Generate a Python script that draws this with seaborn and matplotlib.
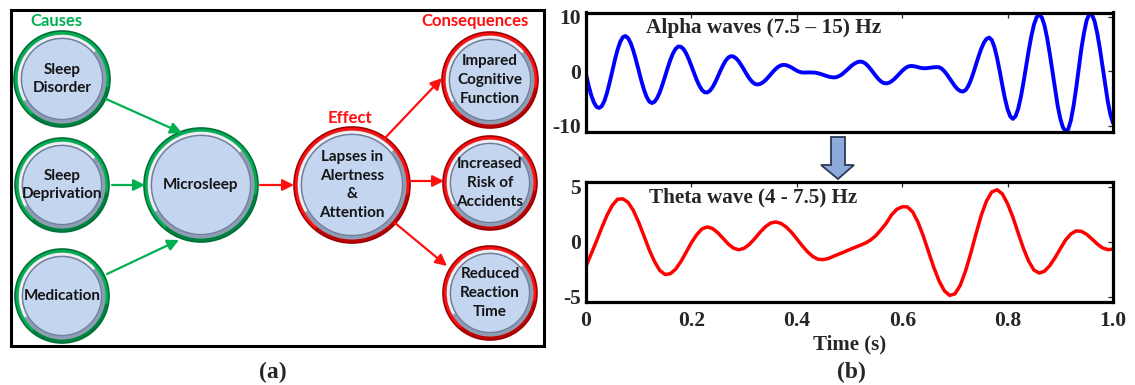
import numpy as np
import pandas as pd
import seaborn as sns
import matplotlib
matplotlib.use("Agg")
import matplotlib.pyplot as plt
from matplotlib.patches import Circle, Rectangle, FancyArrowPatch, Polygon, Arc, Wedge

# ---------------- EEG band samples (amplitude, uV) ----------------
alpha_step = 0.005
alpha_uv = [
    -0.50, -2.60, -4.40, -5.70, -6.50, -6.70, -6.36, -5.39, -3.88, -1.97,
    0.11, 2.18, 4.02, 5.43, 6.29, 6.49, 6.08, 5.15, 3.74, 2.04,
    0.15, -1.69, -3.36, -4.67, -5.52, -5.80, -5.56, -4.88, -3.81, -2.45,
    -0.91, 0.64, 2.09, 3.29, 4.14, 4.56, 4.53, 4.10, 3.31, 2.25,
    1.00, -0.30, -1.55, -2.61, -3.40, -3.82, -3.87, -3.55, -2.92, -2.04,
    -0.99, 0.11, 1.13, 1.97, 2.54, 2.80, 2.71, 2.38, 1.82, 1.10,
    0.28, -0.54, -1.29, -1.88, -2.27, -2.40, -2.31, -2.06, -1.66, -1.16,
    -0.60, -0.04, 0.46, 0.86, 1.11, 1.20, 1.14, 0.96, 0.71, 0.41,
    0.13, -0.08, -0.19, -0.21, -0.19, -0.18, -0.20, -0.23, -0.33, -0.46,
    -0.63, -0.80, -0.95, -1.05, -1.10, -1.05, -0.87, -0.58, -0.18, 0.26,
    0.71, 1.13, 1.46, 1.70, 1.80, 1.73, 1.46, 1.01, 0.44, -0.20,
    -0.84, -1.41, -1.86, -2.13, -2.20, -2.08, -1.80, -1.40, -0.91, -0.39,
    0.11, 0.53, 0.84, 0.99, 0.98, 0.90, 0.78, 0.65, 0.58, 0.58,
    0.63, 0.70, 0.76, 0.79, 0.76, 0.50, 0.03, -0.59, -1.30, -2.04,
    -2.70, -3.24, -3.58, -3.70, -3.46, -2.75, -1.66, -0.28, 1.25, 2.78,
    4.16, 5.25, 5.96, 6.20, 5.75, 4.46, 2.48, 0.05, -2.55, -4.98,
    -6.96, -8.25, -8.70, -8.23, -6.88, -4.76, -2.10, 0.85, 3.80, 6.46,
    8.58, 9.93, 10.40, 9.90, 8.43, 6.14, 3.27, 0.04, -3.23, -6.29,
    -8.65, -10.27, -10.98, -10.60, -9.01, -6.42, -3.14, 0.53, 4.18, 7.08,
    9.39, 10.49, 10.40, 9.22, 7.06, 4.23, 0.98, -2.38, -5.43, -7.88,
    -9.46,
]

theta_step = 0.01
theta_uv = [
    -2.24, -1.09, 0.07, 1.28, 2.42, 3.31, 3.86, 3.89, 3.57, 2.82,
    1.76, 0.52, -0.74, -1.80, -2.61, -2.98, -2.91, -2.50, -1.81, -0.96,
    -0.09, 0.63, 1.16, 1.34, 1.20, 0.82, 0.31, -0.21, -0.59, -0.73,
    -0.60, -0.24, 0.27, 0.84, 1.34, 1.69, 1.79, 1.66, 1.33, 0.85,
    0.26, -0.35, -0.90, -1.33, -1.59, -1.63, -1.52, -1.32, -1.12, -0.93,
    -0.72, -0.52, -0.33, -0.13, 0.15, 0.55, 1.10, 1.70, 2.45, 2.95,
    3.17, 3.16, 2.70, 1.76, 0.52, -0.92, -2.35, -3.57, -4.46, -4.88,
    -4.74, -3.98, -2.69, -1.07, 0.71, 2.40, 3.70, 4.52, 4.72, 4.34,
    3.45, 2.23, 0.80, -0.61, -1.77, -2.58, -2.85, -2.68, -2.17, -1.46,
    -0.64, 0.15, 0.70, 0.98, 0.94, 0.67, 0.25, -0.20, -0.56, -0.72,
    -0.68,
]

time_ticks = [0, 0.2, 0.4, 0.6, 0.8, 1.0]
time_tick_labels = ["0", "0.2", "0.4", "0.6", "0.8", "1.0"]
alpha_yticks = [-10, 0, 10]
theta_yticks = [-5, 0, 5]

alpha_title = "Alpha waves (7.5 \u2013 15) Hz"
theta_title = "Theta wave (4 - 7.5) Hz"

# ---------------- concept map content ----------------
cause_labels = ["Sleep\nDisorder", "Sleep\nDeprivation", "Medication"]
hub_label = "Microsleep"
effect_label = "Lapses in\nAlertness\n&\nAttention"
consequence_labels = ["Impared\nCognitive\nFunction", "Increased\nRisk of\nAccidents",
                      "Reduced\nReaction\nTime"]

alpha_df = pd.DataFrame({"t": np.round(np.arange(len(alpha_uv)) * alpha_step, 4), "v": alpha_uv})
theta_df = pd.DataFrame({"t": np.round(np.arange(len(theta_uv)) * theta_step, 4), "v": theta_uv})

sns.set_theme(style="white")
plt.rcParams["font.family"] = ["DejaVu Sans"]

W, H = 1135, 385
fig = plt.figure(figsize=(W / 100, H / 100), dpi=100)
fig.patch.set_facecolor("white")

# canvas in pixel units for the concept map and captions
canvas = fig.add_axes([0, 0, 1, 1])
canvas.set_xlim(0, W)
canvas.set_ylim(H, 0)
canvas.axis("off")

GREEN, GREEN_DK = "#00b050", "#00703a"
RED, RED_DK = "#ff1010", "#a00000"
DIAG_FONT = ["Lato", "DejaVu Sans"]
SERIF = ["Liberation Serif", "DejaVu Serif"]

canvas.add_patch(Rectangle((10.5, 9.5), 533, 336, fill=False, ec="black", lw=2.2))


def draw_node(x, y, r, ring, ring_dark, label):
    canvas.add_patch(Circle((x, y), r, fc=ring, ec=ring_dark, lw=1.2, zorder=3))
    canvas.add_patch(Wedge((x, y), r, 10, 130, width=3.5, fc=ring_dark, ec="none",
                           alpha=0.75, zorder=3))
    canvas.add_patch(Circle((x, y), r - 3.5, fc="#8e9cb4", ec="none", zorder=4))
    canvas.add_patch(Arc((x, y), 2 * (r - 5.2), 2 * (r - 5.2), theta1=150, theta2=320,
                         color="white", lw=2.0, alpha=0.85, zorder=5))
    canvas.add_patch(Circle((x, y), r - 7.5, fc="#c4d5f0", ec="#6e7e98", lw=0.9, zorder=6))
    canvas.text(x, y, label, ha="center", va="center", fontsize=11, fontweight="bold",
                family=DIAG_FONT, color="#141414", linespacing=1.45, zorder=7)


cause_pos = [(62, 79, 48), (62, 185, 47), (62, 296, 47)]
hub_pos = (201, 185, 57)
effect_pos = (352, 185, 58)
cons_pos = [(490, 80, 48), (490, 183, 47), (490, 293, 47)]

for (x, y, r), lab in zip(cause_pos, cause_labels):
    draw_node(x, y, r, GREEN, GREEN_DK, lab)
draw_node(*hub_pos, GREEN, GREEN_DK, hub_label)
draw_node(*effect_pos, RED, RED_DK, effect_label)
for (x, y, r), lab in zip(cons_pos, consequence_labels):
    draw_node(x, y, r, RED, RED_DK, lab)


def link(p0, p1, color):
    canvas.add_patch(FancyArrowPatch(p0, p1, arrowstyle="-|>", mutation_scale=17,
                                     color=color, lw=1.6, shrinkA=0, shrinkB=0, zorder=8))


for p0, p1 in [((106, 99), (182, 133)), ((112, 185), (145, 185)), ((107, 274), (179, 240))]:
    link(p0, p1, GREEN)
for p0, p1 in [((260, 185), (294, 185)), ((385, 138), (442, 78)),
               ((410, 181), (444, 181)), ((395, 223), (447, 266))]:
    link(p0, p1, RED)

canvas.text(56, 21, "Causes", ha="center", va="center", fontsize=12, fontweight="bold",
            family=DIAG_FONT, color=GREEN)
canvas.text(475, 21, "Consequences", ha="center", va="center", fontsize=12,
            fontweight="bold", family=DIAG_FONT, color=RED)
canvas.text(350, 118, "Effect", ha="center", va="center", fontsize=12, fontweight="bold",
            family=DIAG_FONT, color=RED)

# down arrow linking the two bands
canvas.add_patch(Polygon([(831, 137), (845, 137), (845, 165), (854, 165), (838, 179),
                          (821, 165), (831, 165)], closed=True, fc="#8eaadb",
                         ec="#2b3a55", lw=1.3, zorder=3))

canvas.text(273, 372, "(a)", ha="center", va="center", fontsize=17, fontweight="bold",
            family=SERIF)
canvas.text(851, 372, "(b)", ha="center", va="center", fontsize=17, fontweight="bold",
            family=SERIF)

# ---------------- wave panels ----------------
left = 586 / W
width = 527 / W
ax_a = fig.add_axes([left, (H - 132.5) / H, width, 120 / H])
ax_t = fig.add_axes([left, (H - 301.7) / H, width, 120 / H])

sns.lineplot(data=alpha_df, x="t", y="v", ax=ax_a, color="#0000ff", lw=2.8)
sns.lineplot(data=theta_df, x="t", y="v", ax=ax_t, color="#ff0000", lw=2.5)

for ax, yt, ylim in [(ax_a, alpha_yticks, (-11.2, 10.8)), (ax_t, theta_yticks, (-5.45, 5.45))]:
    ax.set_xlim(0, 1)
    ax.set_ylim(*ylim)
    ax.set_xticks(time_ticks)
    ax.set_yticks(yt)
    ax.set_yticklabels([str(v) for v in yt])
    ax.tick_params(direction="in", top=True, right=True, length=3.5, width=0.9,
                   labelsize=15.5, pad=3.5)
    for s in ax.spines.values():
        s.set_linewidth(2.3)
        s.set_color("black")
    for lab in ax.get_yticklabels() + ax.get_xticklabels():
        lab.set_fontfamily(SERIF)
        lab.set_fontweight("bold")
    ax.set_ylabel("")
    ax.set_xlabel("")
    ax.set_facecolor("white")

ax_a.set_xticklabels([])
ax_t.set_xticklabels(time_tick_labels)
ax_t.tick_params(axis="x", pad=7)
for lab in ax_t.get_xticklabels():
    lab.set_fontfamily(SERIF)
    lab.set_fontweight("bold")
ax_t.set_xlabel("Time (s)", fontsize=15, fontweight="bold", family=SERIF, labelpad=2)

ax_a.text(0.114, 0.87, alpha_title, transform=ax_a.transAxes, ha="left", va="center",
          fontsize=15.3, fontweight="bold", family=SERIF)
ax_t.text(0.12, 0.87, theta_title, transform=ax_t.transAxes, ha="left", va="center",
          fontsize=15.2, fontweight="bold", family=SERIF)

fig.savefig("out.png", dpi=100, facecolor="white")
